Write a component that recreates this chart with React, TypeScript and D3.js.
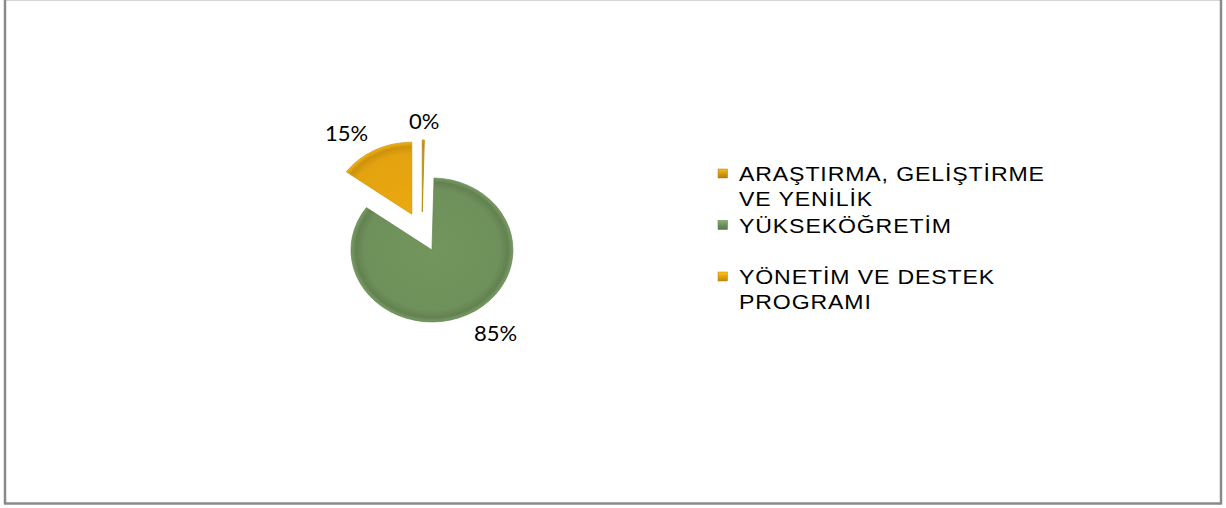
import React from 'react';
import * as d3 from 'd3';

const categories = ['ARAŞTIRMA, GELİŞTİRME VE YENİLİK', 'YÜKSEKÖĞRETİM', 'YÖNETİM VE DESTEK PROGRAMI'];
const legendLines = [['ARAŞTIRMA, GELİŞTİRME', 'VE YENİLİK'], ['YÜKSEKÖĞRETİM'], ['YÖNETİM VE DESTEK', 'PROGRAMI']];
const values = [0.4, 84.6, 15];
const colors = ['#D49A10', '#6E905A', '#E3A30F'];

const W = 1226;
const H = 508;
const cx = 422;
const cy = 232;
const R = 72;
const xStretch = 1.125;
const explode = 20;

export default function App() {
  const total = d3.sum(values);
  const pie = d3.pie<number>().sort(null).startAngle(0).endAngle(2 * Math.PI);
  const arcs = pie(values);
  const arc = d3.arc<d3.PieArcDatum<number>>().innerRadius(0).outerRadius(R);

  const labelR = 112;
  const legendX = 718;
  const legendTop = 181;
  const slot = 51.5;
  const lineH = 24.5;

  return (
    <svg width={W} height={H} style={{ position: 'absolute', left: 0, top: 0, background: '#fff' }}>
      <defs>
        {colors.map((c, i) => (
          <radialGradient key={i} id={`g${i}`} cx="0" cy="0" r={R} gradientUnits="userSpaceOnUse">
            <stop offset="0" stopColor={d3.color(c)!.brighter(0.1).toString()} />
            <stop offset="0.84" stopColor={c} />
            <stop offset="0.94" stopColor={d3.color(c)!.darker(0.3).toString()} />
            <stop offset="1" stopColor={d3.color(c)!.brighter(0.25).toString()} />
          </radialGradient>
        ))}
        {colors.map((c, i) => (
          <linearGradient key={i} id={`m${i}`} x1="0" y1="0" x2="0" y2="1">
            <stop offset="0" stopColor={d3.color(c)!.brighter(0.6).toString()} />
            <stop offset="0.5" stopColor={c} />
            <stop offset="1" stopColor={d3.color(c)!.darker(0.5).toString()} />
          </linearGradient>
        ))}
      </defs>
      {/* frame */}
      <line x1={5} y1={0.5} x2={1221} y2={0.5} stroke="#d4d4d4" strokeWidth={1} />
      <line x1={5} y1={0} x2={5} y2={504} stroke="#8a8a8a" strokeWidth={2.5} />
      <line x1={1221} y1={0} x2={1221} y2={504} stroke="#8a8a8a" strokeWidth={2.5} />
      <line x1={4} y1={503.5} x2={1222} y2={503.5} stroke="#8a8a8a" strokeWidth={2.5} />

      <g transform={`translate(${cx},${cy}) scale(${xStretch},1)`}>
        {arcs.map((a, i) => {
          const mid = (a.startAngle + a.endAngle) / 2;
          const dx = Math.sin(mid) * explode;
          const dy = -Math.cos(mid) * explode;
          return (
            <g key={i} transform={`translate(${dx},${dy})`}>
              <path d={arc(a) || ''} fill={`url(#g${i})`} stroke={d3.color(colors[i])!.darker(0.4).toString()} strokeWidth={i === 0 ? 0.8 : 0.6} />
            </g>
          );
        })}
      </g>

      {arcs.map((a, i) => {
        const mid = (a.startAngle + a.endAngle) / 2;
        const s = Math.sin(mid);
        const x = cx + s * labelR * xStretch + s * 40;
        const y = cy - Math.cos(mid) * labelR;
        return (
          <text key={i} x={x} y={y} textAnchor="middle" dominantBaseline="central"
            fontFamily="Lato, 'Open Sans', sans-serif" fontSize={22} fill="#000">
            {`${Math.round((values[i] / total) * 100)}%`}
          </text>
        );
      })}

      {categories.map((c, i) => {
        const base = legendTop + i * slot;
        return (
          <g key={c}>
            <rect x={legendX} y={base - 12} width={9.5} height={9} fill={`url(#m${i})`} stroke={d3.color(colors[i])!.darker(0.6).toString()} strokeWidth={0.5} />
            {legendLines[i].map((ln, j) => (
              <g key={j} transform={`translate(${legendX + 21},${base + j * lineH}) scale(1.1,1)`}>
                <text x={0} y={0} fontFamily="'Liberation Sans', Arial, sans-serif"
                  fontSize={21} letterSpacing={0.8} fill="#000">{ln}</text>
              </g>
            ))}
          </g>
        );
      })}
    </svg>
  );
}
